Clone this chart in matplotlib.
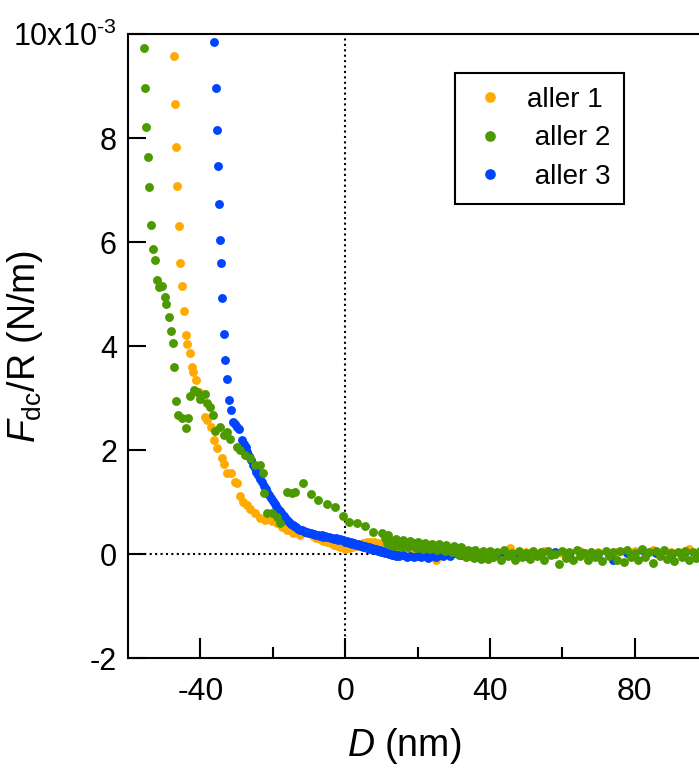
import matplotlib
matplotlib.use("Agg")
import matplotlib.pyplot as plt
from matplotlib.ticker import FixedLocator, FuncFormatter

plt.rcParams['font.family'] = ['Liberation Sans', 'DejaVu Sans']
plt.rcParams['mathtext.fontset'] = 'custom'
plt.rcParams['mathtext.rm'] = 'Liberation Sans'
plt.rcParams['mathtext.it'] = 'Liberation Sans:italic'
plt.rcParams['axes.unicode_minus'] = False

# aller 1 (orange), y in units of 1e-3 N/m
x_aller1 = [-47.4, -47.0, -46.7, -46.4, -46.0, -45.6, -45.2, -44.6, -44.1, -43.6,
            -43.0, -42.3, -41.9, -41.1, -40.5, -40.0, -38.8, -38.1, -37.2, -36.3,
            -35.4, -34.0, -33.6, -32.6, -31.5, -30.4, -29.9, -29.0, -28.1, -27.1,
            -26.2, -24.8, -23.4, -22.1, -20.2, -18.8, -17.5, -16.1, -14.3, -12.4,
            -10.6, -9.0, -8.0, -7.0, -6.0, -5.0, -4.0, -3.0, -2.0, -1.4,
            0.0, 1.0, 2.0, 3.0, 4.0, 5.0, 6.0, 7.0, 8.0, 9.0,
            10.0, 11.0, 12.0, 13.0, 14.0, 15.0, 17.0, 19.0, 21.0, 23.0,
            25.0, 28.0, 31.0, 34.0, 37.0, 40.0, 45.5, 50.0, 55.0, 60.0,
            65.0, 70.0, 75.0, 80.0, 85.0, 90.0, 95.0, 100.0]
y_aller1 = [9.58, 8.66, 7.83, 7.08, 6.31, 5.59, 5.15, 4.67, 4.21, 4.03,
            3.86, 3.60, 3.50, 3.35, 3.12, 2.99, 2.64, 2.57, 2.45, 2.19,
            2.03, 1.84, 1.74, 1.56, 1.55, 1.39, 1.36, 1.11, 1.00, 0.94,
            0.86, 0.78, 0.69, 0.66, 0.63, 0.60, 0.52, 0.46, 0.40, 0.36,
            0.40, 0.34, 0.31, 0.28, 0.25, 0.24, 0.21, 0.18, 0.15, 0.14,
            0.10, 0.11, 0.13, 0.16, 0.19, 0.21, 0.23, 0.24, 0.24, 0.22,
            0.20, 0.17, 0.15, 0.13, 0.10, 0.08, 0.06, 0.05, 0.04, 0.02,
            -0.12, 0.11, 0.03, 0.05, 0.02, 0.04, 0.11, 0.03, 0.05, 0.02,
            0.06, 0.04, 0.03, 0.05, 0.07, 0.04, 0.09, 0.07]

# aller 2 (green)
x_aller2 = [-55.6, -55.4, -54.9, -54.5, -54.1, -53.6, -53.1, -52.6, -52.1, -51.5,
            -50.6, -49.9, -49.5, -48.8, -48.2, -47.6, -47.2, -46.6, -46.3, -45.0,
            -44.1, -43.4, -42.8, -41.7, -40.9, -40.0, -38.8, -38.3, -37.4, -36.5,
            -35.9, -34.7, -33.4, -32.6, -31.7, -29.9, -29.0, -27.6, -26.2, -24.8,
            -23.4, -22.7, -22.3, -21.6, -20.2, -18.8, -17.9, -16.1, -14.7, -13.8,
            -11.7, -9.5, -7.4, -5.0, -2.8, -0.7, 1.2, 3.2, 5.5, 7.8,
            10.1, 11.9,
            11.0, 11.5, 12.0, 12.5, 13.0, 13.5, 14.0, 14.5, 15.0, 15.5,
            16.0, 16.5, 17.0, 17.5, 18.0, 18.5, 19.0, 19.5, 20.0, 20.5,
            21.0, 21.5, 22.0, 22.5, 23.0, 23.5, 24.0, 24.5, 25.0, 25.5,
            26.0, 26.5, 27.0, 27.5, 28.0, 28.5, 29.0, 29.5, 30.0, 30.5,
            31.0, 31.5, 32.0, 32.5, 33.0, 33.5, 34.0, 34.5, 35.0, 35.5,
            36.0, 36.5, 37.0, 37.5, 38.0, 38.5, 39.0, 39.5, 40.0,
            41, 42, 43, 44, 45, 46, 47, 48, 49, 50,
            51, 52, 53, 54, 55, 56, 57, 58, 59, 60,
            61, 62, 63, 64, 65, 66, 67, 68, 69, 70,
            71, 72, 73, 74, 75, 76, 77, 78, 79, 80,
            81, 82, 83, 84, 85, 86, 87, 88, 89, 90,
            91, 92, 93, 94, 95, 96, 97, 98, 99, 100]
y_aller2 = [9.74, 8.96, 8.21, 7.64, 7.05, 6.33, 5.87, 5.65, 5.27, 5.14,
            5.15, 4.95, 4.81, 4.56, 4.28, 4.06, 3.60, 2.94, 2.67, 2.61,
            2.43, 2.62, 3.03, 3.15, 3.12, 2.99, 3.07, 2.90, 2.82, 2.67,
            2.37, 2.45, 2.29, 2.35, 2.22, 2.06, 2.00, 1.90, 1.84, 1.71,
            1.71, 1.56, 1.17, 0.78, 0.78, 0.72, 0.60, 1.20, 1.18, 1.20,
            1.36, 1.15, 1.03, 0.97, 0.90, 0.73, 0.62, 0.60, 0.53, 0.43,
            0.40, 0.37,
            0.30, 0.22, 0.27, 0.18, 0.25, 0.16, 0.28, 0.20, 0.24, 0.14,
            0.26, 0.19, 0.22, 0.13, 0.25, 0.17, 0.21, 0.12, 0.23, 0.15,
            0.19, 0.10, 0.22, 0.14, 0.18, 0.09, 0.20, 0.12, 0.16, 0.07,
            0.19, 0.10, 0.14, 0.05, 0.17, 0.08, 0.12, 0.03, 0.15, 0.06,
            0.10, -0.02, 0.13, 0.02, 0.06, -0.05, 0.08, -0.03, 0.05, -0.08,
            0.07, -0.04, 0.02, -0.09, 0.06, -0.05, 0.01, -0.10, 0.05,
            -0.06, 0.04, -0.11, 0.07, -0.03, 0.02, -0.12, 0.05, -0.05, 0.01,
            -0.10, 0.06, -0.04, 0.03, -0.12, 0.05, -0.02, 0.00, -0.20, 0.06,
            -0.08, 0.03, -0.11, 0.07, -0.04, 0.02, -0.12, 0.04, -0.06, 0.01,
            -0.13, 0.05, -0.03, 0.03, -0.11, 0.06, -0.15, 0.08, -0.05, 0.02,
            -0.12, 0.10, -0.06, 0.03, -0.18, 0.05, -0.04, 0.08, -0.10, 0.01,
            -0.13, 0.04, -0.05, 0.06, -0.11, 0.03, -0.07, 0.05, -0.12, 0.02]

# aller 3 (blue)
x_aller3 = [-36.1, -35.8, -35.4, -35.2, -34.9, -34.7, -34.2, -33.9, -33.6, -33.1,
            -32.7, -32.2, -31.6, -31.0, -30.5, -29.9, -29.3,
            -28.5, -28.0, -27.5, -27.0, -26.5, -26.0, -25.5, -25.0, -24.5, -24.0,
            -23.5, -23.0, -22.5, -22.0, -21.5, -21.0, -20.5, -20.0, -19.5, -19.0,
            -18.5, -18.0, -17.5, -17.0, -16.5, -16.0, -15.5, -15.0, -14.5, -14.0,
            -13.5, -13.0, -12.5, -12.0, -11.5, -11.0, -10.5, -10.0, -9.5, -9.0,
            -8.5, -8.0, -7.5, -7.0, -6.5, -6.0, -5.5, -5.0, -4.5, -4.0,
            -3.5, -3.0, -2.5, -2.0, -1.5, -1.0, -0.5, 0.0, 0.5, 1.0,
            1.5, 2.0, 2.5, 3.0, 3.5, 4.0, 4.5, 5.0, 5.5, 6.0,
            6.5, 7.0, 7.5, 8.0, 8.5, 9.0, 9.5, 10.0, 10.5, 11.0,
            11.5, 12.0, 12.5, 13.0, 13.5, 14.0, 14.5, 15.0, 16, 17,
            18, 19, 20, 21, 22, 23, 24, 25, 26, 27,
            28, 29, 30, 32, 34, 36, 38, 40, 42, 44,
            46, 48, 50, 54, 58, 62, 66, 70, 74, 78,
            82, 86, 90, 94, 98]
y_aller3 = [9.84, 8.97, 8.16, 7.47, 6.73, 6.04, 5.59, 4.92, 4.24, 3.74,
            3.37, 2.96, 2.76, 2.54, 2.50, 2.45, 2.40,
            2.19, 2.12, 2.05, 1.97, 1.88, 1.80, 1.72, 1.65, 1.58, 1.52,
            1.44, 1.38, 1.31, 1.25, 1.19, 1.13, 1.07, 1.02, 0.97, 0.92,
            0.87, 0.82, 0.77, 0.73, 0.69, 0.65, 0.61, 0.58, 0.56, 0.53,
            0.51, 0.49, 0.47, 0.46, 0.44, 0.43, 0.42, 0.41, 0.40, 0.38,
            0.39, 0.36, 0.37, 0.35, 0.36, 0.33, 0.34, 0.32, 0.33, 0.30,
            0.31, 0.29, 0.30, 0.27, 0.28, 0.26, 0.27, 0.24, 0.25, 0.22,
            0.23, 0.20, 0.21, 0.18, 0.19, 0.16, 0.17, 0.14, 0.15, 0.12,
            0.13, 0.10, 0.12, 0.08, 0.10, 0.06, 0.08, 0.04, 0.06, 0.02,
            0.04, 0.00, 0.02, -0.02, 0.00, -0.03, -0.01, -0.04, -0.02, -0.05,
            -0.03, -0.06, -0.04, -0.06, -0.03, -0.07, -0.04, -0.05, -0.02, -0.04,
            0.00, -0.03, 0.01, -0.02, 0.02, 0.00, 0.03, 0.01, -0.02, 0.03,
            0.00, 0.02, -0.03, 0.01, 0.03, -0.01, 0.02, 0.00, -0.12, 0.01,
            0.08, 0.02, -0.01, 0.03, 0.00]

labels = ['aller 1', ' aller 2', ' aller 3']
colors = ['#FFAA00', '#4C9900', '#0044FF']

fig = plt.figure(figsize=(6.99, 7.69), dpi=100)
ax = fig.add_axes([128 / 699, 111 / 769, 579 / 699, 624 / 769])

ax.axvline(0, color='black', lw=1.5, ls=(0, (1, 1.6)), zorder=1)
ax.axhline(0, color='black', lw=1.5, ls=(0, (1, 1.6)), zorder=1)

ms = 6.4
l1, = ax.plot(x_aller1, y_aller1, 'o', color=colors[0], ms=ms, mew=0, zorder=2)
l3, = ax.plot(x_aller3, y_aller3, 'o', color=colors[2], ms=ms, mew=0, zorder=3)
l2, = ax.plot(x_aller2, y_aller2, 'o', color=colors[1], ms=ms, mew=0, zorder=4)

ax.set_xlim(-60, 100)
ax.set_ylim(-2, 10)

ax.xaxis.set_major_locator(FixedLocator([-40, 0, 40, 80]))
ax.xaxis.set_minor_locator(FixedLocator([-20, 20, 60]))
ax.yaxis.set_major_locator(FixedLocator([-2, 0, 2, 4, 6, 8, 10]))


def yfmt(v, pos):
    if abs(v - 10) < 1e-9:
        return '10x10$^{\\text{-3}}$'
    return '%d' % v


ax.yaxis.set_major_formatter(FuncFormatter(yfmt))
ax.tick_params(which='both', direction='in', width=1.5,
               top=False, right=False)
ax.tick_params(axis='x', which='major', length=14.5, pad=14, labelsize=23)
ax.tick_params(axis='x', which='minor', length=8)
ax.tick_params(axis='y', which='major', length=13, pad=8, labelsize=22)
for s in ax.spines.values():
    s.set_linewidth(1.5)

ax.set_xlabel('$\\mathit{D}$ (nm)', fontsize=27)
ax.xaxis.set_label_coords(0.477, -0.109)
ax.set_ylabel('$\\mathit{F}_{\\mathrm{dc}}$/R (N/m)', fontsize=27)
ax.yaxis.set_label_coords(-0.143, 0.5)

leg = ax.legend([l1, l2, l3], labels, loc='upper left',
                bbox_to_anchor=(0.565, 0.9375), fontsize=20, frameon=True,
                fancybox=False, edgecolor='black', framealpha=1,
                borderpad=0.5, handlelength=1.5, handletextpad=0.57,
                labelspacing=0.45, borderaxespad=0, markerscale=1.2)
leg.get_frame().set_linewidth(1.5)

fig.savefig('out.png', dpi=100)
